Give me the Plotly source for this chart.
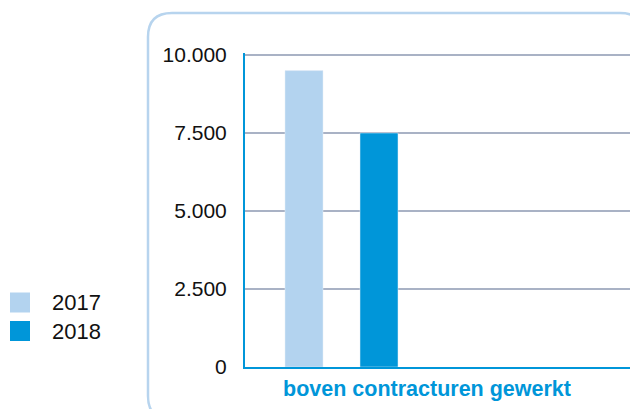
import plotly.graph_objects as go

categories = ["boven contracturen gewerkt"]
years = ["2017", "2018"]
values_2017 = [9500]
values_2018 = [7500]
tick_vals = [0, 2500, 5000, 7500, 10000]
tick_text = ["0", "2.500", "5.000", "7.500", "10.000"]
colors = ["#b3d3ef", "#0096d9"]

W, H = 630, 409
L, R, T, B = 245, 0, 53, 42
PW, PH = W - L - R, H - T - B
Y_TOP = 10000 * (H - B - T) / (H - B - 55)

def px(x):
    return (x - L) / PW

def py(y):
    return 1 - (y - T) / PH

fig = go.Figure()
series = [values_2017, values_2018]
offsets = [(285 - 427) / PW, (360 - 427) / PW]
for name, vals, col, off in zip(years, series, colors, offsets):
    fig.add_trace(go.Bar(
        x=categories, y=vals, name=name, marker_color=col,
        width=38 / PW, offset=off, showlegend=False,
    ))

# rounded frame (extends past the right and bottom edges)
x0, y0, x1, y1, r = 148, 13, 644, 420, 24
path = (f"M {px(x0)},{py(y0 + r)} Q {px(x0)},{py(y0)} {px(x0 + r)},{py(y0)} "
        f"L {px(x1 - r)},{py(y0)} Q {px(x1)},{py(y0)} {px(x1)},{py(y0 + r)} "
        f"L {px(x1)},{py(y1 - r)} Q {px(x1)},{py(y1)} {px(x1 - r)},{py(y1)} "
        f"L {px(x0 + r)},{py(y1)} Q {px(x0)},{py(y1)} {px(x0)},{py(y1 - r)} Z")
shapes = [dict(type="path", path=path, xref="paper", yref="paper",
               line=dict(color="#b7d4ee", width=2.5), layer="below")]

# manual legend
annotations = []
legend_y = [302.5, 331]
for name, col, ly in zip(years, colors, legend_y):
    shapes.append(dict(type="rect", xref="paper", yref="paper",
                       x0=px(10), x1=px(30), y0=py(ly - 10), y1=py(ly + 10),
                       fillcolor=col, line=dict(width=0)))
    annotations.append(dict(text=name, xref="paper", yref="paper",
                            x=px(50), y=py(ly), xanchor="left", yanchor="middle",
                            showarrow=False, font=dict(size=22, color="#111111")))

fig.update_layout(
    width=W, height=H, margin=dict(l=L, r=R, t=T, b=B),
    paper_bgcolor="white", plot_bgcolor="white",
    barmode="overlay", shapes=shapes, annotations=annotations,
    font=dict(family="Liberation Sans, Arial, sans-serif"),
    xaxis=dict(
        range=[-(427 - L) / PW, (W - R - 427) / PW], type="category",
        showgrid=False, zeroline=False,
        showline=True, linecolor="#0096d9", linewidth=2,
        ticks="outside", ticklen=1, tickcolor="rgba(0,0,0,0)",
        tickfont=dict(size=21.5, color="#0096d9", weight="bold"),
    ),
    yaxis=dict(
        range=[0, Y_TOP], tickvals=tick_vals, ticktext=tick_text,
        showgrid=True, gridcolor="#a9b2c5", gridwidth=2.2,
        zeroline=False, showline=True, linecolor="#0096d9", linewidth=2,
        ticks="outside", ticklen=12, tickcolor="rgba(0,0,0,0)",
        tickfont=dict(size=21, color="#111111"),
    ),
)

fig.write_html("out.html", config={"displayModeBar": False},
               post_script="document.body.style.margin='0';")
